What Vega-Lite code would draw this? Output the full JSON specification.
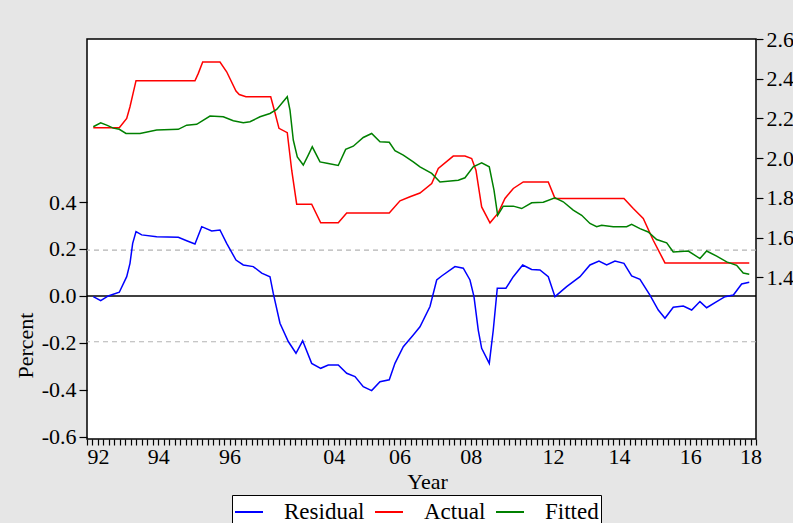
{
  "$schema": "https://vega.github.io/schema/vega-lite/v6.json",
  "width": 669,
  "height": 400,
  "autosize": {"type": "none"},
  "padding": {"left": 87, "top": 39, "right": 37, "bottom": 84},
  "background": "#e6e6e6",
  "config": {
    "view": {"stroke": "black", "strokeWidth": 1.5, "fill": "white"},
    "font": "Liberation Serif",
    "axis": {
      "labelFont": "Liberation Serif",
      "titleFont": "Liberation Serif",
      "labelFontSize": 22,
      "titleFontSize": 22,
      "titleFontWeight": "normal",
      "labelColor": "black",
      "titleColor": "black",
      "tickColor": "black",
      "tickWidth": 1.2,
      "domain": false,
      "grid": false
    },
    "legend": {
      "labelFont": "Liberation Serif",
      "labelFontSize": 23,
      "labelColor": "black"
    }
  },
  "datasets": {
    "bands": [
      {"y": 0.195, "kind": "band"},
      {"y": -0.195, "kind": "band"}
    ],
    "zero": [
      {"y": 0}
    ],
    "resid": [
      {"t": 1.15, "v": -0.003, "s": "Residual"},
      {"t": 2.5, "v": -0.02, "s": "Residual"},
      {"t": 3.88, "v": 0.0, "s": "Residual"},
      {"t": 5.89, "v": 0.016, "s": "Residual"},
      {"t": 7.24, "v": 0.082, "s": "Residual"},
      {"t": 7.84, "v": 0.139, "s": "Residual"},
      {"t": 8.33, "v": 0.224, "s": "Residual"},
      {"t": 8.94, "v": 0.274, "s": "Residual"},
      {"t": 9.97, "v": 0.26, "s": "Residual"},
      {"t": 12.71, "v": 0.252, "s": "Residual"},
      {"t": 16.65, "v": 0.25, "s": "Residual"},
      {"t": 18.18, "v": 0.235, "s": "Residual"},
      {"t": 19.69, "v": 0.221, "s": "Residual"},
      {"t": 20.92, "v": 0.295, "s": "Residual"},
      {"t": 22.74, "v": 0.277, "s": "Residual"},
      {"t": 24.25, "v": 0.281, "s": "Residual"},
      {"t": 25.47, "v": 0.224, "s": "Residual"},
      {"t": 27.17, "v": 0.153, "s": "Residual"},
      {"t": 28.5, "v": 0.132, "s": "Residual"},
      {"t": 30.32, "v": 0.125, "s": "Residual"},
      {"t": 31.86, "v": 0.097, "s": "Residual"},
      {"t": 33.37, "v": 0.082, "s": "Residual"},
      {"t": 33.97, "v": 0.011, "s": "Residual"},
      {"t": 35.19, "v": -0.116, "s": "Residual"},
      {"t": 36.71, "v": -0.194, "s": "Residual"},
      {"t": 38.11, "v": -0.244, "s": "Residual"},
      {"t": 39.33, "v": -0.191, "s": "Residual"},
      {"t": 40.97, "v": -0.287, "s": "Residual"},
      {"t": 42.62, "v": -0.308, "s": "Residual"},
      {"t": 44.0, "v": -0.294, "s": "Residual"},
      {"t": 45.82, "v": -0.294, "s": "Residual"},
      {"t": 47.36, "v": -0.329, "s": "Residual"},
      {"t": 48.87, "v": -0.343, "s": "Residual"},
      {"t": 50.38, "v": -0.386, "s": "Residual"},
      {"t": 51.91, "v": -0.403, "s": "Residual"},
      {"t": 53.43, "v": -0.365, "s": "Residual"},
      {"t": 55.12, "v": -0.357, "s": "Residual"},
      {"t": 56.16, "v": -0.287, "s": "Residual"},
      {"t": 57.68, "v": -0.216, "s": "Residual"},
      {"t": 59.5, "v": -0.166, "s": "Residual"},
      {"t": 60.72, "v": -0.131, "s": "Residual"},
      {"t": 62.55, "v": -0.045, "s": "Residual"},
      {"t": 63.77, "v": 0.068, "s": "Residual"},
      {"t": 64.68, "v": 0.085, "s": "Residual"},
      {"t": 67.1, "v": 0.125, "s": "Residual"},
      {"t": 68.62, "v": 0.118, "s": "Residual"},
      {"t": 69.84, "v": 0.068, "s": "Residual"},
      {"t": 70.57, "v": -0.003, "s": "Residual"},
      {"t": 71.35, "v": -0.145, "s": "Residual"},
      {"t": 71.97, "v": -0.223, "s": "Residual"},
      {"t": 73.36, "v": -0.287, "s": "Residual"},
      {"t": 74.09, "v": -0.145, "s": "Residual"},
      {"t": 74.82, "v": 0.033, "s": "Residual"},
      {"t": 76.4, "v": 0.033, "s": "Residual"},
      {"t": 77.74, "v": 0.082, "s": "Residual"},
      {"t": 79.45, "v": 0.132, "s": "Residual"},
      {"t": 81.09, "v": 0.113, "s": "Residual"},
      {"t": 82.6, "v": 0.111, "s": "Residual"},
      {"t": 84.12, "v": 0.082, "s": "Residual"},
      {"t": 85.34, "v": -0.003, "s": "Residual"},
      {"t": 87.47, "v": 0.04, "s": "Residual"},
      {"t": 89.9, "v": 0.082, "s": "Residual"},
      {"t": 91.72, "v": 0.132, "s": "Residual"},
      {"t": 93.36, "v": 0.149, "s": "Residual"},
      {"t": 94.77, "v": 0.132, "s": "Residual"},
      {"t": 96.28, "v": 0.149, "s": "Residual"},
      {"t": 97.92, "v": 0.139, "s": "Residual"},
      {"t": 99.32, "v": 0.085, "s": "Residual"},
      {"t": 100.84, "v": 0.071, "s": "Residual"},
      {"t": 102.66, "v": 0.004, "s": "Residual"},
      {"t": 104.18, "v": -0.06, "s": "Residual"},
      {"t": 105.4, "v": -0.095, "s": "Residual"},
      {"t": 106.91, "v": -0.048, "s": "Residual"},
      {"t": 108.74, "v": -0.043, "s": "Residual"},
      {"t": 110.27, "v": -0.06, "s": "Residual"},
      {"t": 111.78, "v": -0.024, "s": "Residual"},
      {"t": 113.0, "v": -0.05, "s": "Residual"},
      {"t": 114.83, "v": -0.024, "s": "Residual"},
      {"t": 116.35, "v": -0.003, "s": "Residual"},
      {"t": 117.88, "v": 0.004, "s": "Residual"},
      {"t": 119.38, "v": 0.051, "s": "Residual"},
      {"t": 120.77, "v": 0.058, "s": "Residual"}
    ],
    "af": [
      {"t": 1.15, "v": 2.153, "s": "Actual"},
      {"t": 5.89, "v": 2.153, "s": "Actual"},
      {"t": 7.24, "v": 2.2, "s": "Actual"},
      {"t": 7.84, "v": 2.259, "s": "Actual"},
      {"t": 8.94, "v": 2.39, "s": "Actual"},
      {"t": 19.69, "v": 2.39, "s": "Actual"},
      {"t": 20.3, "v": 2.427, "s": "Actual"},
      {"t": 21.1, "v": 2.484, "s": "Actual"},
      {"t": 24.25, "v": 2.484, "s": "Actual"},
      {"t": 25.47, "v": 2.435, "s": "Actual"},
      {"t": 27.17, "v": 2.338, "s": "Actual"},
      {"t": 27.77, "v": 2.32, "s": "Actual"},
      {"t": 28.99, "v": 2.309, "s": "Actual"},
      {"t": 33.5, "v": 2.309, "s": "Actual"},
      {"t": 34.15, "v": 2.242, "s": "Actual"},
      {"t": 35.01, "v": 2.15, "s": "Actual"},
      {"t": 36.52, "v": 2.128, "s": "Actual"},
      {"t": 37.33, "v": 1.939, "s": "Actual"},
      {"t": 38.24, "v": 1.768, "s": "Actual"},
      {"t": 40.97, "v": 1.768, "s": "Actual"},
      {"t": 42.62, "v": 1.674, "s": "Actual"},
      {"t": 45.82, "v": 1.674, "s": "Actual"},
      {"t": 47.36, "v": 1.724, "s": "Actual"},
      {"t": 55.12, "v": 1.724, "s": "Actual"},
      {"t": 57.08, "v": 1.785, "s": "Actual"},
      {"t": 58.9, "v": 1.805, "s": "Actual"},
      {"t": 60.72, "v": 1.824, "s": "Actual"},
      {"t": 62.86, "v": 1.872, "s": "Actual"},
      {"t": 64.06, "v": 1.948, "s": "Actual"},
      {"t": 66.79, "v": 2.01, "s": "Actual"},
      {"t": 68.93, "v": 2.01, "s": "Actual"},
      {"t": 70.15, "v": 1.998, "s": "Actual"},
      {"t": 70.93, "v": 1.939, "s": "Actual"},
      {"t": 71.97, "v": 1.754, "s": "Actual"},
      {"t": 73.49, "v": 1.674, "s": "Actual"},
      {"t": 75.0, "v": 1.724, "s": "Actual"},
      {"t": 76.22, "v": 1.797, "s": "Actual"},
      {"t": 77.74, "v": 1.847, "s": "Actual"},
      {"t": 79.56, "v": 1.88, "s": "Actual"},
      {"t": 84.12, "v": 1.88, "s": "Actual"},
      {"t": 85.34, "v": 1.797, "s": "Actual"},
      {"t": 97.92, "v": 1.797, "s": "Actual"},
      {"t": 99.62, "v": 1.746, "s": "Actual"},
      {"t": 101.44, "v": 1.696, "s": "Actual"},
      {"t": 103.26, "v": 1.586, "s": "Actual"},
      {"t": 105.4, "v": 1.472, "s": "Actual"},
      {"t": 120.77, "v": 1.472, "s": "Actual"},
      {"t": 1.15, "v": 2.158, "s": "Fitted"},
      {"t": 2.5, "v": 2.178, "s": "Fitted"},
      {"t": 3.59, "v": 2.166, "s": "Fitted"},
      {"t": 4.8, "v": 2.151, "s": "Fitted"},
      {"t": 5.89, "v": 2.145, "s": "Fitted"},
      {"t": 7.11, "v": 2.124, "s": "Fitted"},
      {"t": 9.66, "v": 2.124, "s": "Fitted"},
      {"t": 12.71, "v": 2.141, "s": "Fitted"},
      {"t": 16.65, "v": 2.145, "s": "Fitted"},
      {"t": 18.18, "v": 2.166, "s": "Fitted"},
      {"t": 20.0, "v": 2.17, "s": "Fitted"},
      {"t": 22.43, "v": 2.212, "s": "Fitted"},
      {"t": 24.85, "v": 2.208, "s": "Fitted"},
      {"t": 26.68, "v": 2.188, "s": "Fitted"},
      {"t": 28.5, "v": 2.178, "s": "Fitted"},
      {"t": 29.72, "v": 2.183, "s": "Fitted"},
      {"t": 31.55, "v": 2.208, "s": "Fitted"},
      {"t": 33.37, "v": 2.225, "s": "Fitted"},
      {"t": 34.59, "v": 2.245, "s": "Fitted"},
      {"t": 36.52, "v": 2.309, "s": "Fitted"},
      {"t": 37.02, "v": 2.242, "s": "Fitted"},
      {"t": 37.62, "v": 2.091, "s": "Fitted"},
      {"t": 38.35, "v": 2.006, "s": "Fitted"},
      {"t": 39.44, "v": 1.965, "s": "Fitted"},
      {"t": 40.35, "v": 2.015, "s": "Fitted"},
      {"t": 41.08, "v": 2.057, "s": "Fitted"},
      {"t": 42.49, "v": 1.981, "s": "Fitted"},
      {"t": 44.0, "v": 1.973, "s": "Fitted"},
      {"t": 45.82, "v": 1.963, "s": "Fitted"},
      {"t": 47.17, "v": 2.044, "s": "Fitted"},
      {"t": 48.56, "v": 2.06, "s": "Fitted"},
      {"t": 50.38, "v": 2.104, "s": "Fitted"},
      {"t": 51.91, "v": 2.124, "s": "Fitted"},
      {"t": 53.43, "v": 2.082, "s": "Fitted"},
      {"t": 55.12, "v": 2.08, "s": "Fitted"},
      {"t": 56.16, "v": 2.037, "s": "Fitted"},
      {"t": 57.68, "v": 2.015, "s": "Fitted"},
      {"t": 59.5, "v": 1.981, "s": "Fitted"},
      {"t": 60.72, "v": 1.956, "s": "Fitted"},
      {"t": 62.86, "v": 1.923, "s": "Fitted"},
      {"t": 64.37, "v": 1.88, "s": "Fitted"},
      {"t": 67.71, "v": 1.889, "s": "Fitted"},
      {"t": 68.93, "v": 1.901, "s": "Fitted"},
      {"t": 70.44, "v": 1.956, "s": "Fitted"},
      {"t": 71.97, "v": 1.976, "s": "Fitted"},
      {"t": 73.36, "v": 1.956, "s": "Fitted"},
      {"t": 74.22, "v": 1.839, "s": "Fitted"},
      {"t": 74.89, "v": 1.712, "s": "Fitted"},
      {"t": 75.91, "v": 1.758, "s": "Fitted"},
      {"t": 77.74, "v": 1.758, "s": "Fitted"},
      {"t": 79.27, "v": 1.746, "s": "Fitted"},
      {"t": 81.09, "v": 1.775, "s": "Fitted"},
      {"t": 83.21, "v": 1.778, "s": "Fitted"},
      {"t": 85.34, "v": 1.8, "s": "Fitted"},
      {"t": 86.85, "v": 1.78, "s": "Fitted"},
      {"t": 88.67, "v": 1.738, "s": "Fitted"},
      {"t": 90.21, "v": 1.712, "s": "Fitted"},
      {"t": 91.72, "v": 1.671, "s": "Fitted"},
      {"t": 92.94, "v": 1.654, "s": "Fitted"},
      {"t": 93.85, "v": 1.662, "s": "Fitted"},
      {"t": 95.97, "v": 1.654, "s": "Fitted"},
      {"t": 98.41, "v": 1.654, "s": "Fitted"},
      {"t": 99.32, "v": 1.666, "s": "Fitted"},
      {"t": 100.84, "v": 1.645, "s": "Fitted"},
      {"t": 102.35, "v": 1.628, "s": "Fitted"},
      {"t": 103.88, "v": 1.59, "s": "Fitted"},
      {"t": 105.71, "v": 1.573, "s": "Fitted"},
      {"t": 106.91, "v": 1.527, "s": "Fitted"},
      {"t": 109.65, "v": 1.532, "s": "Fitted"},
      {"t": 111.78, "v": 1.494, "s": "Fitted"},
      {"t": 113.0, "v": 1.532, "s": "Fitted"},
      {"t": 114.83, "v": 1.506, "s": "Fitted"},
      {"t": 116.65, "v": 1.477, "s": "Fitted"},
      {"t": 118.47, "v": 1.46, "s": "Fitted"},
      {"t": 119.67, "v": 1.421, "s": "Fitted"},
      {"t": 120.77, "v": 1.415, "s": "Fitted"}
    ]
  },
  "layer": [
    {
      "layer": [
        {
          "data": {"name": "bands"},
          "mark": {"type": "rule", "color": "#b4b4b4", "strokeDash": [5, 4], "strokeWidth": 1.2},
          "encoding": {
            "y": {"field": "y", "type": "quantitative", "title": "Percent"}
          }
        },
        {
          "data": {"name": "zero"},
          "mark": {"type": "rule", "color": "black", "strokeWidth": 1.5},
          "encoding": {
            "y": {"field": "y", "type": "quantitative", "title": "Percent"}
          }
        },
        {
          "data": {"name": "resid"},
          "mark": {"type": "line", "strokeWidth": 1.5},
          "encoding": {
            "x": {
              "field": "t",
              "type": "quantitative",
              "title": "Year",
              "scale": {"domain": [0, 122], "nice": false, "zero": false},
              "axis": {
                "title": "Year",
                "values": [0,1,2,3,4,5,6,7,8,9,10,11,12,13,14,15,16,17,18,19,20,21,22,23,24,25,26,27,28,29,30,31,32,33,34,35,36,37,38,39,40,41,42,43,44,45,46,47,48,49,50,51,52,53,54,55,56,57,58,59,60,61,62,63,64,65,66,67,68,69,70,71,72,73,74,75,76,77,78,79,80,81,82,83,84,85,86,87,88,89,90,91,92,93,94,95,96,97,98,99,100,101,102,103,104,105,106,107,108,109,110,111,112,113,114,115,116,117,118,119,120,121,122],
                "labelExpr": "datum.value==2?'92':datum.value==13?'94':datum.value==26?'96':datum.value==45?'04':datum.value==57?'06':datum.value==70?'08':datum.value==85?'12':datum.value==97?'14':datum.value==110?'16':datum.value==121?'18':''",
                "labelOverlap": false,
                "labelFlush": false,
                "labelBound": false,
                "tickSize": 6,
                "labelPadding": 1,
                "titleX": 340,
                "titleY": 42,
                "titleBaseline": "middle",
                "titleAnchor": null
              }
            },
            "y": {
              "field": "v",
              "type": "quantitative",
              "title": "Percent",
              "scale": {"domain": [-0.609, 1.094], "nice": false, "zero": false},
              "axis": {
                "orient": "left",
                "values": [-0.6, -0.4, -0.2, 0, 0.2, 0.4],
                "labelExpr": "(datum.value < -0.001 ? '-' : '') + format(abs(datum.value), '.1f')",
                "tickSize": 8,
                "labelPadding": 3,
                "titleX": -62,
                "titleY": 306,
                "titleBaseline": "middle",
                "titleAnchor": null
              }
            },
            "color": {
              "field": "s",
              "type": "nominal",
              "scale": {"domain": ["Residual", "Actual", "Fitted"], "range": ["#0000ff", "#ff0000", "#008000"]},
              "legend": {
                "title": null,
                "orient": "none",
                "legendX": 145,
                "legendY": 456,
                "direction": "horizontal",
                "columns": 3,
                "symbolType": "stroke",
                "symbolSize": 784,
                "symbolStrokeWidth": 2,
                "strokeColor": "black",
                "fillColor": "white",
                "padding": 2,
                "columnPadding": 6,
                "labelOffset": 20
              }
            }
          }
        }
      ]
    },
    {
      "data": {"name": "af"},
      "mark": {"type": "line", "strokeWidth": 1.5},
      "encoding": {
        "x": {
          "field": "t",
          "type": "quantitative",
          "title": "Year",
          "scale": {"domain": [0, 122], "nice": false, "zero": false},
          "axis": {
            "title": "Year",
            "values": [0,1,2,3,4,5,6,7,8,9,10,11,12,13,14,15,16,17,18,19,20,21,22,23,24,25,26,27,28,29,30,31,32,33,34,35,36,37,38,39,40,41,42,43,44,45,46,47,48,49,50,51,52,53,54,55,56,57,58,59,60,61,62,63,64,65,66,67,68,69,70,71,72,73,74,75,76,77,78,79,80,81,82,83,84,85,86,87,88,89,90,91,92,93,94,95,96,97,98,99,100,101,102,103,104,105,106,107,108,109,110,111,112,113,114,115,116,117,118,119,120,121,122],
            "labelExpr": "datum.value==2?'92':datum.value==13?'94':datum.value==26?'96':datum.value==45?'04':datum.value==57?'06':datum.value==70?'08':datum.value==85?'12':datum.value==97?'14':datum.value==110?'16':datum.value==121?'18':''",
            "labelOverlap": false,
            "labelFlush": false,
            "labelBound": false,
            "tickSize": 6,
            "labelPadding": 1,
            "titleX": 340,
            "titleY": 42,
            "titleBaseline": "middle",
            "titleAnchor": null
          }
        },
        "y": {
          "field": "v",
          "type": "quantitative",
          "scale": {"domain": [0.585, 2.6], "nice": false, "zero": false},
          "axis": {
            "orient": "right",
            "title": null,
            "values": [1.4, 1.6, 1.8, 2.0, 2.2, 2.4, 2.6],
            "format": ".1f",
            "tickSize": 7,
            "labelPadding": 3
          }
        },
        "color": {"field": "s", "type": "nominal"}
      }
    }
  ],
  "resolve": {"scale": {"y": "independent"}}
}
